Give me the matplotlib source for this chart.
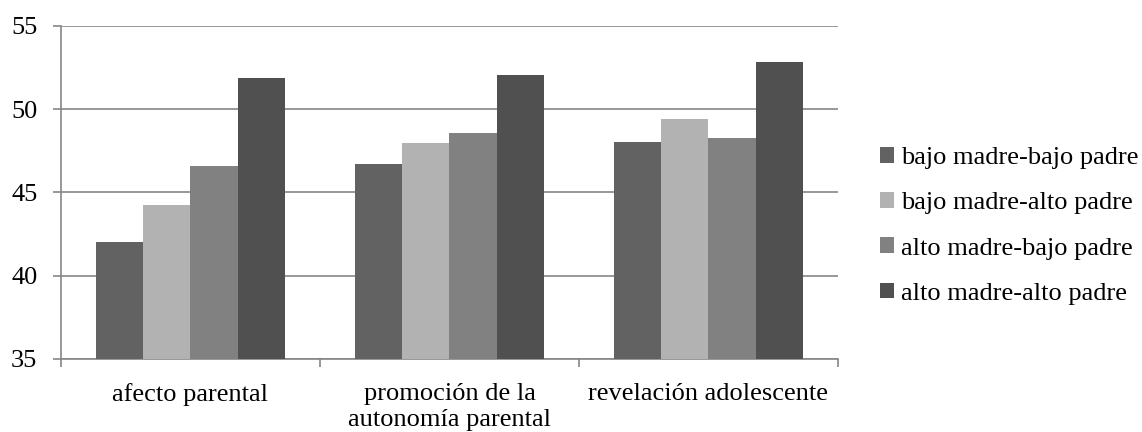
import numpy as np
import matplotlib
matplotlib.use("Agg")
import matplotlib.pyplot as plt

categories = ["afecto parental", "promoción de la\nautonomía parental", "revelación adolescente"]
series_names = ["bajo madre-bajo padre", "bajo madre-alto padre",
                "alto madre-bajo padre", "alto madre-alto padre"]
bajo_bajo = [42.05, 46.7, 48.05]
bajo_alto = [44.25, 47.95, 49.42]
alto_bajo = [46.62, 48.58, 48.3]
alto_alto = [51.9, 52.05, 52.85]
colors = ["#626262", "#b2b2b2", "#818181", "#505050"]

plt.rcParams["font.family"] = ["Liberation Serif", "DejaVu Serif"]

fig = plt.figure(figsize=(11.42, 4.32), dpi=100)
ax = fig.add_axes([61 / 1142, 1 - 359 / 432, (838 - 61) / 1142, (359 - 26) / 432])

grid_col = "#868686"
x = np.arange(len(categories))
bw = 1 / 5.5
for i, (vals, name) in enumerate(zip([bajo_bajo, bajo_alto, alto_bajo, alto_alto], series_names)):
    ax.bar(x + (i - 1.5) * bw, np.array(vals) - 35, bottom=35, width=bw,
           color=colors[i], label=name, zorder=3)

ax.set_xlim(-0.5, 2.5)
ax.set_ylim(35, 55)
ax.set_yticks([35, 40, 45, 50, 55])
ax.yaxis.grid(True, color=grid_col, linewidth=1.2, zorder=0)
for s in ["top", "right"]:
    ax.spines[s].set_visible(False)
for s in ["left", "bottom"]:
    ax.spines[s].set_color(grid_col)
    ax.spines[s].set_linewidth(1.2)
ax.tick_params(axis="y", length=6, width=1.2, color=grid_col, labelsize=19, pad=11)

# category boundary ticks on x axis
ax.set_xticks([-0.5, 0.5, 1.5, 2.5])
ax.set_xticklabels([])
ax.tick_params(axis="x", length=6, width=1.2, color=grid_col)
for xi, lab in zip(x, categories):
    ax.text(xi, 33.55, lab, ha="center", va="top", fontsize=19,
            linespacing=1.2, transform=ax.transData)

ax.legend(loc="center left", bbox_to_anchor=(1.04, 0.40), frameon=False,
          fontsize=19, handlelength=0.55, handleheight=0.55, handletextpad=0.25,
          labelspacing=0.87, borderaxespad=0)

fig.savefig("out.png", dpi=100)
